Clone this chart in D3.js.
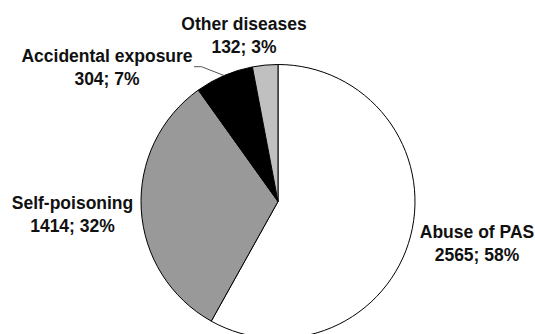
<!DOCTYPE html>
<html>
<head>
<meta charset="utf-8">
<script src="https://cdn.jsdelivr.net/npm/d3@7"></script>
<style>
  html, body { margin: 0; padding: 0; background: #fff; }
  svg { display: block; }
  text { font-family: "Liberation Sans", Arial, sans-serif; font-weight: bold; font-size: 17.5px; fill: #111; }
</style>
</head>
<body>
<svg id="chart" width="535" height="334"></svg>
<script>
// Causes of poisoning cases
const categories = ["Abuse of PAS", "Self-poisoning", "Accidental exposure", "Other diseases"];
const counts = [2565, 1414, 304, 132];
const percents = [58, 32, 7, 3];
const sliceColors = ["#ffffff", "#999999", "#000000", "#c0c0c0"];

const width = 535, height = 334;
const cx = 278, cy = 201.5, radius = 137;

const svg = d3.select("#chart");
const g = svg.append("g").attr("transform", `translate(${cx},${cy})`);

const data = categories.map((c, i) => ({ name: c, value: counts[i], pct: percents[i], color: sliceColors[i] }));

const pie = d3.pie().value(d => d.value).sort(null).startAngle(0).endAngle(2 * Math.PI);
const arcs = pie(data);
const arc = d3.arc().innerRadius(0).outerRadius(radius);

g.selectAll("path.slice")
  .data(arcs)
  .join("path")
  .attr("class", "slice")
  .attr("d", arc)
  .attr("fill", d => d.data.color)
  .attr("stroke", "#000")
  .attr("stroke-width", 1)
  .attr("stroke-linejoin", "round");

// Label anchor points (relative to the pie centre)
const labelPos = {
  "Abuse of PAS":        { x: 199,  y: 36.5 },
  "Self-poisoning":      { x: -205.5, y: 7.8 },
  "Accidental exposure": { x: -171, y: -139.8 },
  "Other diseases":      { x: -34,  y: -171.5 }
};
const lineGap = 23;

// Leader line for the small black slice
const acc = arcs[2];
const mid = (acc.startAngle + acc.endAngle) / 2;
const ex = radius * Math.sin(mid), ey = -radius * Math.cos(mid);
g.append("polyline")
  .attr("points", [[-84, -134.8], [-76.5, -134.8], [ex, ey]].map(p => p.join(",")).join(" "))
  .attr("fill", "none")
  .attr("stroke", "#555")
  .attr("stroke-width", 1);

const labels = g.selectAll("text.lbl")
  .data(arcs)
  .join("text")
  .attr("class", "lbl")
  .attr("text-anchor", "middle")
  .attr("transform", d => `translate(${labelPos[d.data.name].x},${labelPos[d.data.name].y})`);

labels.append("tspan").attr("x", 0).attr("y", 0).text(d => d.data.name);
labels.append("tspan").attr("x", 0).attr("y", lineGap).text(d => `${d.data.value}; ${d.data.pct}%`);
</script>
</body>
</html>
